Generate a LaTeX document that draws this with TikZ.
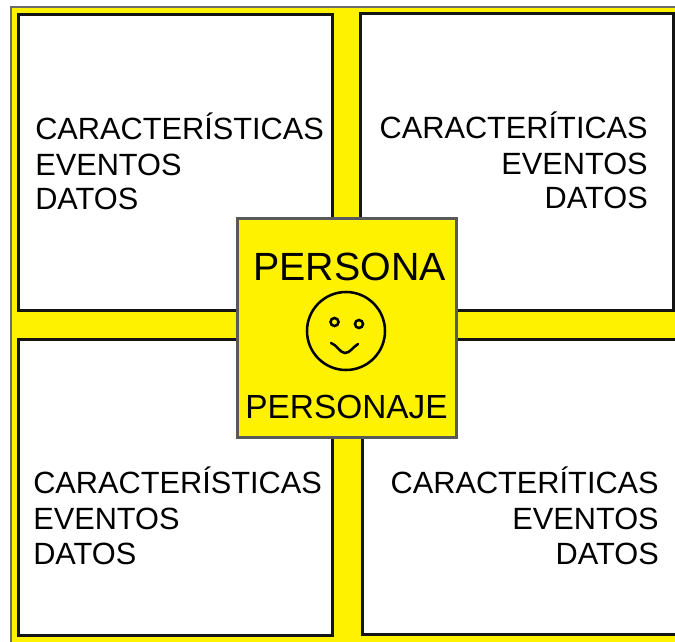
\documentclass[tikz,border=0pt]{standalone}
\usepackage{fontspec}
\setmainfont{Liberation Sans}
\definecolor{bgyellow}{RGB}{255,242,0}
\newcommand{\fsA}{\fontsize{23.05pt}{26.25pt}\selectfont}
\begin{document}
\begin{tikzpicture}[x=0.75pt,y=-0.75pt,
  panel/.style={draw=black!92,line width=2.25pt,fill=white},
  paneltext/.style={inner sep=0pt,font=\fsA,text=black},
  face/.style={draw=black,line width=1.9pt}]
\useasboundingbox (0,0) rectangle (675,642);
\fill[white] (0,0) rectangle (675,642);
\fill[bgyellow] (11,7) rectangle (675,642);
\draw[gray!85!black,line width=1.5pt] (11,642) -- (11,7) -- (675,7);
\coordinate (tla) at (18,15); \coordinate (tlb) at (332,310);
\draw[panel] (tla) rectangle (tlb);
\coordinate (tra) at (360,14); \coordinate (trb) at (673.5,310);
\draw[panel] (tra) rectangle (trb);
\coordinate (bla) at (18,339); \coordinate (blb) at (332,635);
\draw[panel] (bla) rectangle (blb);
\coordinate (bra) at (362,339); \coordinate (brb) at (680,634);
\draw[panel] (bra) rectangle (brb);
\draw[draw=gray!70!black,fill=bgyellow,line width=2.25pt] (237,218) rectangle (456,437);
\node[paneltext,anchor=base west] (tlt) at (35,139) {CARACTERÍSTICAS};
\node[paneltext,anchor=base west] (tl1) at (35,175) {EVENTOS};
\node[paneltext,anchor=base west] (tl2) at (35,209) {DATOS};
\node[paneltext,anchor=base east] (trt) at (648,138) {CARACTERÍTICAS};
\node[paneltext,anchor=base east] (tr1) at (648,174) {EVENTOS};
\node[paneltext,anchor=base east] (tr2) at (648,208) {DATOS};
\node[paneltext,anchor=base west] (blt) at (33,493) {CARACTERÍSTICAS};
\node[paneltext,anchor=base west] (bl1) at (33,529) {EVENTOS};
\node[paneltext,anchor=base west] (bl2) at (33,564) {DATOS};
\node[paneltext,anchor=base east] (brt) at (659,493) {CARACTERÍTICAS};
\node[paneltext,anchor=base east] (br1) at (659,529) {EVENTOS};
\node[paneltext,anchor=base east] (br2) at (659,564) {DATOS};
\node[inner sep=0pt,anchor=base,font=\fontsize{29.5pt}{31pt}\selectfont] (persona) at (349.5,280) {PERSONA};
\node[inner sep=0pt,anchor=base,font=\fontsize{25.05pt}{27pt}\selectfont] (personaje) at (346.5,418) {PERSONAJE};
\draw[face] (346,331) circle[radius=39];
\draw[face] (334.5,322) circle[radius=4];
\draw[face] (359,324) circle[radius=4];
\draw[face,line cap=round] (331,343) .. controls (337,345) and (340,353) .. (345,353) .. controls (350,353) and (353,347) .. (358,344);
\end{tikzpicture}
\end{document}
